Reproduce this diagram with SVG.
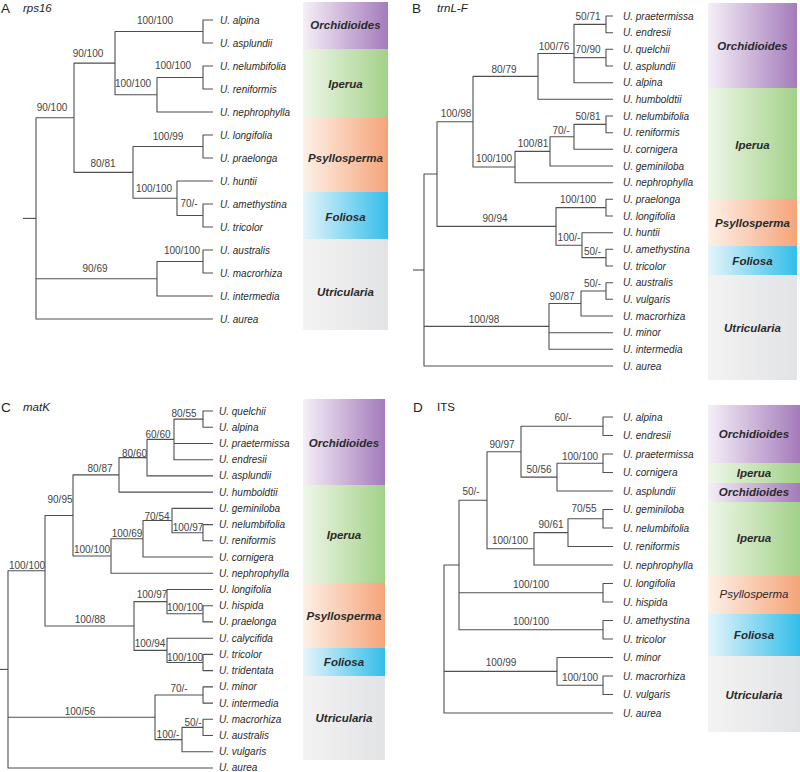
<svg xmlns="http://www.w3.org/2000/svg" width="800" height="772" viewBox="0 0 800 772">
<defs>
<linearGradient id="gO" x1="0" x2="1" y1="0" y2="0"><stop offset="0" stop-color="#f5eff8"/><stop offset="1" stop-color="#a47bba"/></linearGradient>
<linearGradient id="gI" x1="0" x2="1" y1="0" y2="0"><stop offset="0" stop-color="#eff7e9"/><stop offset="1" stop-color="#a3d189"/></linearGradient>
<linearGradient id="gP" x1="0" x2="1" y1="0" y2="0"><stop offset="0" stop-color="#fdf1e8"/><stop offset="1" stop-color="#f5a479"/></linearGradient>
<linearGradient id="gF" x1="0" x2="1" y1="0" y2="0"><stop offset="0" stop-color="#e6f5fb"/><stop offset="1" stop-color="#33bee9"/></linearGradient>
<linearGradient id="gU" x1="0" x2="1" y1="0" y2="0"><stop offset="0" stop-color="#f3f3f3"/><stop offset="1" stop-color="#e2e3e5"/></linearGradient>
</defs>
<style>
.t{font-family:"Liberation Sans",Arial,sans-serif;font-size:10px;font-style:italic;fill:#2b2b2b}
.s{font-family:"Liberation Sans",Arial,sans-serif;font-size:10px;fill:#444;text-anchor:middle}
.c{font-family:"Liberation Sans",Arial,sans-serif;font-size:11.5px;font-style:italic;font-weight:bold;fill:#2a2a2a;text-anchor:middle}
.cn{font-family:"Liberation Sans",Arial,sans-serif;font-size:11.5px;font-style:italic;fill:#2a2a2a;text-anchor:middle}
.L{font-family:"Liberation Sans",Arial,sans-serif;font-size:13.5px;fill:#222}
.Li{font-family:"Liberation Sans",Arial,sans-serif;font-size:11.5px;font-style:italic;fill:#222}
.Ln{font-family:"Liberation Sans",Arial,sans-serif;font-size:11.5px;fill:#222}
.e path{fill:none;stroke:#4f4f4f;stroke-width:1.1;stroke-linejoin:round}
</style>
<rect width="800" height="772" fill="#fff"/>

<!-- Panel A -->
<g id="panelA">
<text class="L" x="1" y="13">A</text><text class="Li" x="23" y="12">rps16</text>
<g id="A-bars">
<rect x="303" y="2" width="85" height="47" fill="url(#gO)"/><text class="c" x="345.5" y="29">Orchidioides</text>
<rect x="303" y="49" width="85" height="69" fill="url(#gI)"/><text class="c" x="345.5" y="88">Iperua</text>
<rect x="303" y="118" width="85" height="74" fill="url(#gP)"/><text class="c" x="345.5" y="162">Psyllosperma</text>
<rect x="303" y="192" width="85" height="47" fill="url(#gF)"/><text class="c" x="345.5" y="221">Foliosa</text>
<rect x="303" y="239" width="85" height="91" fill="url(#gU)"/><text class="c" x="345.5" y="296">Utricularia</text>
</g>
<g id="A-edges" class="e">
<path d="M213,20H203V43H213"/>
<path d="M213,66H203V89H213"/>
<path d="M203,77.5H157V112H213"/>
<path d="M203,31.5H115V94.75H157"/>
<path d="M213,135H203V158H213"/>
<path d="M213,204H203V227H213"/>
<path d="M213,181H177V215.5H203"/>
<path d="M203,146.5H133V198.25H177"/>
<path d="M115,63.1H74V172.4H133"/>
<path d="M213,250H203V273H213"/>
<path d="M203,261.5H157V296H213"/>
<path d="M74,117.75H36V319H213"/>
<path d="M36,278.75H157"/>
<path d="M23,218.4H36"/>
</g>
<g id="A-taxa">
<text class="t" x="220" y="23.5">U. alpina</text>
<text class="t" x="220" y="46.5">U. asplundii</text>
<text class="t" x="220" y="69.5">U. nelumbifolia</text>
<text class="t" x="220" y="92.5">U. reniformis</text>
<text class="t" x="220" y="115.5">U. nephrophylla</text>
<text class="t" x="220" y="138.5">U. longifolia</text>
<text class="t" x="220" y="161.5">U. praelonga</text>
<text class="t" x="220" y="184.5">U. huntii</text>
<text class="t" x="220" y="207.5">U. amethystina</text>
<text class="t" x="220" y="230.5">U. tricolor</text>
<text class="t" x="220" y="253.5">U. australis</text>
<text class="t" x="220" y="276.5">U. macrorhiza</text>
<text class="t" x="220" y="299.5">U. intermedia</text>
<text class="t" x="220" y="322.5">U. aurea</text>
</g>
<g id="A-support">
<text class="s" x="155" y="24">100/100</text>
<text class="s" x="88" y="56.5">90/100</text>
<text class="s" x="173" y="69">100/100</text>
<text class="s" x="133" y="87">100/100</text>
<text class="s" x="52" y="110.5">90/100</text>
<text class="s" x="168" y="139.5">100/99</text>
<text class="s" x="103" y="166.5">80/81</text>
<text class="s" x="154" y="191.5">100/100</text>
<text class="s" x="189" y="207">70/-</text>
<text class="s" x="182" y="254">100/100</text>
<text class="s" x="95" y="271.5">90/69</text>
</g>
</g>

<!-- Panel B -->
<g id="panelB">
<text class="L" x="412" y="13">B</text><text class="Li" x="437" y="12">trnL-F</text>
<g id="B-bars">
<rect x="708" y="3" width="89" height="85" fill="url(#gO)"/><text class="c" x="752.5" y="50">Orchidioides</text>
<rect x="708" y="88" width="89" height="111" fill="url(#gI)"/><text class="c" x="752.5" y="149">Iperua</text>
<rect x="708" y="199" width="89" height="47" fill="url(#gP)"/><text class="c" x="752.5" y="227">Psyllosperma</text>
<rect x="708" y="246" width="89" height="29" fill="url(#gF)"/><text class="c" x="752.5" y="265">Foliosa</text>
<rect x="708" y="275" width="89" height="105" fill="url(#gU)"/><text class="c" x="752.5" y="332">Utricularia</text>
</g>
<g id="B-edges" class="e">
<path d="M613,16H606V32.7H613"/>
<path d="M613,49.3H606V66H613"/>
<path d="M606,24.35H574V82.7H613"/>
<path d="M574,57.65H606"/>
<path d="M574,53.5H538V99.3H613"/>
<path d="M613,116H606V132.7H613"/>
<path d="M606,124.35H574V149.3H613"/>
<path d="M574,136.8H550V166H613"/>
<path d="M550,151.4H515V182.7H613"/>
<path d="M538,76.4H473V167.05H515"/>
<path d="M613,199.3H606V216H613"/>
<path d="M613,249.3H606V266H613"/>
<path d="M613,232.7H582V257.65H606"/>
<path d="M606,207.65H556V245.2H582"/>
<path d="M473,121.7H437V226.4H556"/>
<path d="M613,282.7H606V299.3H613"/>
<path d="M606,291H581V316H613"/>
<path d="M581,303.5H549V349.3H613"/>
<path d="M549,332.7H613"/>
<path d="M437,174.05H424V366H613"/>
<path d="M424,326.4H549"/>
<path d="M413,270H424"/>
</g>
<g id="B-taxa">
<text class="t" x="623" y="19.5">U. praetermissa</text>
<text class="t" x="623" y="36.2">U. endresii</text>
<text class="t" x="623" y="52.8">U. quelchii</text>
<text class="t" x="623" y="69.5">U. asplundii</text>
<text class="t" x="623" y="86.2">U. alpina</text>
<text class="t" x="623" y="102.8">U. humboldtii</text>
<text class="t" x="623" y="119.5">U. nelumbifolia</text>
<text class="t" x="623" y="136.2">U. reniformis</text>
<text class="t" x="623" y="152.8">U. cornigera</text>
<text class="t" x="623" y="169.5">U. geminiloba</text>
<text class="t" x="623" y="186.2">U. nephrophylla</text>
<text class="t" x="623" y="202.8">U. praelonga</text>
<text class="t" x="623" y="219.5">U. longifolia</text>
<text class="t" x="623" y="236.2">U. huntii</text>
<text class="t" x="623" y="252.8">U. amethystina</text>
<text class="t" x="623" y="269.5">U. tricolor</text>
<text class="t" x="623" y="286.2">U. australis</text>
<text class="t" x="623" y="302.8">U. vulgaris</text>
<text class="t" x="623" y="319.5">U. macrorhiza</text>
<text class="t" x="623" y="336.2">U. minor</text>
<text class="t" x="623" y="352.8">U. intermedia</text>
<text class="t" x="623" y="369.5">U. aurea</text>
</g>
<g id="B-support">
<text class="s" x="588" y="19.5">50/71</text>
<text class="s" x="588" y="52.5">70/90</text>
<text class="s" x="554" y="49.5">100/76</text>
<text class="s" x="504" y="72.5">80/79</text>
<text class="s" x="456" y="116.5">100/98</text>
<text class="s" x="588" y="119.5">50/81</text>
<text class="s" x="561" y="133.5">70/-</text>
<text class="s" x="533" y="146.5">100/81</text>
<text class="s" x="494" y="161.5">100/100</text>
<text class="s" x="578" y="202.5">100/100</text>
<text class="s" x="495" y="221.5">90/94</text>
<text class="s" x="569" y="240.5">100/-</text>
<text class="s" x="592.5" y="254.5">50/-</text>
<text class="s" x="592.5" y="286.5">50/-</text>
<text class="s" x="562" y="299.5">90/87</text>
<text class="s" x="484" y="322.5">100/98</text>
</g>
</g>

<!-- Panel C -->
<g id="panelC">
<text class="L" x="1" y="412">C</text><text class="Li" x="23" y="411">matK</text>
<g id="C-bars">
<rect x="303" y="399" width="82" height="86" fill="url(#gO)"/><text class="c" x="344" y="447">Orchidioides</text>
<rect x="303" y="485" width="82" height="98" fill="url(#gI)"/><text class="c" x="344" y="539">Iperua</text>
<rect x="303" y="583" width="82" height="65" fill="url(#gP)"/><text class="c" x="344" y="620">Psyllosperma</text>
<rect x="303" y="648" width="82" height="28" fill="url(#gF)"/><text class="c" x="344" y="666">Foliosa</text>
<rect x="303" y="676" width="82" height="84" fill="url(#gU)"/><text class="c" x="344" y="722">Utricularia</text>
</g>
<g id="C-edges" class="e">
<path d="M213,411H203V427.2H213"/>
<path d="M203,419.1H174V459.7H213"/>
<path d="M174,443.5H213"/>
<path d="M174,439.4H147V475.9H213"/>
<path d="M147,457.65H119V492.1H213"/>
<path d="M213,524.6H203V540.8H213"/>
<path d="M213,508.4H172V532.7H203"/>
<path d="M172,520.55H143V557H213"/>
<path d="M143,538.8H111V573.3H213"/>
<path d="M119,474.9H73V556.05H111"/>
<path d="M213,605.7H203V621.9H213"/>
<path d="M213,589.5H167V613.8H203"/>
<path d="M213,654.4H203V670.6H213"/>
<path d="M213,638.2H167V662.5H203"/>
<path d="M167,601.65H134V650.35H167"/>
<path d="M73,515.5H45V626H134"/>
<path d="M213,686.9H203V703.1H213"/>
<path d="M213,719.3H203V735.5H213"/>
<path d="M203,727.4H182V751.8H213"/>
<path d="M203,695H155V739.6H182"/>
<path d="M45,570.75H8V768H213"/>
<path d="M8,717.3H155"/>
<path d="M0,669.4H8"/>
</g>
<g id="C-taxa">
<text class="t" x="219" y="414.5">U. quelchii</text>
<text class="t" x="219" y="430.7">U. alpina</text>
<text class="t" x="219" y="447">U. praetermissa</text>
<text class="t" x="219" y="463.2">U. endresii</text>
<text class="t" x="219" y="479.4">U. asplundii</text>
<text class="t" x="219" y="495.6">U. humboldtii</text>
<text class="t" x="219" y="511.9">U. geminiloba</text>
<text class="t" x="219" y="528.1">U. nelumbifolia</text>
<text class="t" x="219" y="544.3">U. reniformis</text>
<text class="t" x="219" y="560.5">U. cornigera</text>
<text class="t" x="219" y="576.8">U. nephrophylla</text>
<text class="t" x="219" y="593">U. longifolia</text>
<text class="t" x="219" y="609.2">U. hispida</text>
<text class="t" x="219" y="625.4">U. praelonga</text>
<text class="t" x="219" y="641.7">U. calycifida</text>
<text class="t" x="219" y="657.9">U. tricolor</text>
<text class="t" x="219" y="674.1">U. tridentata</text>
<text class="t" x="219" y="690.4">U. minor</text>
<text class="t" x="219" y="706.6">U. intermedia</text>
<text class="t" x="219" y="722.8">U. macrorhiza</text>
<text class="t" x="219" y="739">U. australis</text>
<text class="t" x="219" y="755.3">U. vulgaris</text>
<text class="t" x="219" y="771">U. aurea</text>
</g>
<g id="C-support">
<text class="s" x="184" y="416.5">80/55</text>
<text class="s" x="158" y="437.5">60/60</text>
<text class="s" x="134.5" y="456.5">80/60</text>
<text class="s" x="100" y="471.5">80/87</text>
<text class="s" x="60" y="502.5">90/95</text>
<text class="s" x="157" y="519.5">70/54</text>
<text class="s" x="188" y="530.5">100/97</text>
<text class="s" x="127" y="536.5">100/69</text>
<text class="s" x="92" y="552.5">100/100</text>
<text class="s" x="27" y="568.5">100/100</text>
<text class="s" x="152" y="597.5">100/97</text>
<text class="s" x="185" y="610.5">100/100</text>
<text class="s" x="90" y="622.5">100/88</text>
<text class="s" x="150" y="646.5">100/94</text>
<text class="s" x="185" y="660.5">100/100</text>
<text class="s" x="179" y="691.5">70/-</text>
<text class="s" x="193" y="725.5">50/-</text>
<text class="s" x="168" y="737.5">100/-</text>
<text class="s" x="80" y="714.5">100/56</text>
</g>
</g>

<!-- Panel D -->
<g id="panelD">
<text class="L" x="413" y="412">D</text><text class="Ln" x="437" y="411">ITS</text>
<g id="D-bars">
<rect x="708" y="405" width="92" height="58" fill="url(#gO)"/><text class="c" x="754" y="438">Orchidioides</text>
<rect x="708" y="463" width="92" height="20" fill="url(#gI)"/><text class="c" x="754" y="477">Iperua</text>
<rect x="708" y="483" width="92" height="19" fill="url(#gO)"/><text class="c" x="754" y="496">Orchidioides</text>
<rect x="708" y="502" width="92" height="74" fill="url(#gI)"/><text class="c" x="754" y="542">Iperua</text>
<rect x="708" y="576" width="92" height="38" fill="url(#gP)"/><text class="cn" x="754" y="598">Psyllosperma</text>
<rect x="708" y="614" width="92" height="42" fill="url(#gF)"/><text class="c" x="754" y="639">Foliosa</text>
<rect x="708" y="656" width="92" height="76" fill="url(#gU)"/><text class="c" x="754" y="699">Utricularia</text>
</g>
<g id="D-edges" class="e">
<path d="M613,417H603V435.5H613"/>
<path d="M613,454H603V472.5H613"/>
<path d="M603,463.25H557V491H613"/>
<path d="M603,426.25H521V477.1H557"/>
<path d="M613,509.5H603V528H613"/>
<path d="M603,518.75H568V546.5H613"/>
<path d="M568,532.6H534V565H613"/>
<path d="M521,451.7H487V548.8H534"/>
<path d="M613,583.5H603V602H613"/>
<path d="M613,620.5H603V639H613"/>
<path d="M487,500.25H459V629.75H603"/>
<path d="M459,592.75H603"/>
<path d="M613,676H603V694.5H613"/>
<path d="M613,657.5H557V685.25H603"/>
<path d="M459,565H444V713H613"/>
<path d="M444,671.4H557"/>
</g>
<g id="D-taxa">
<text class="t" x="623" y="420.5">U. alpina</text>
<text class="t" x="623" y="439">U. endresii</text>
<text class="t" x="623" y="457.5">U. praetermissa</text>
<text class="t" x="623" y="476">U. cornigera</text>
<text class="t" x="623" y="494.5">U. asplundii</text>
<text class="t" x="623" y="513">U. geminiloba</text>
<text class="t" x="623" y="531.5">U. nelumbifolia</text>
<text class="t" x="623" y="550">U. reniformis</text>
<text class="t" x="623" y="568.5">U. nephrophylla</text>
<text class="t" x="623" y="587">U. longifolia</text>
<text class="t" x="623" y="605.5">U. hispida</text>
<text class="t" x="623" y="624">U. amethystina</text>
<text class="t" x="623" y="642.5">U. tricolor</text>
<text class="t" x="623" y="661">U. minor</text>
<text class="t" x="623" y="679.5">U. macrorhiza</text>
<text class="t" x="623" y="698">U. vulgaris</text>
<text class="t" x="623" y="716.5">U. aurea</text>
</g>
<g id="D-support">
<text class="s" x="563" y="420.5">60/-</text>
<text class="s" x="502" y="447.5">90/97</text>
<text class="s" x="580" y="459.5">100/100</text>
<text class="s" x="539" y="472.5">50/56</text>
<text class="s" x="471" y="494.5">50/-</text>
<text class="s" x="584" y="511.5">70/55</text>
<text class="s" x="551" y="527.5">90/61</text>
<text class="s" x="510" y="543.5">100/100</text>
<text class="s" x="531" y="587.5">100/100</text>
<text class="s" x="531" y="624.5">100/100</text>
<text class="s" x="501" y="665.5">100/99</text>
<text class="s" x="580" y="680.5">100/100</text>
</g>
</g>
</svg>
